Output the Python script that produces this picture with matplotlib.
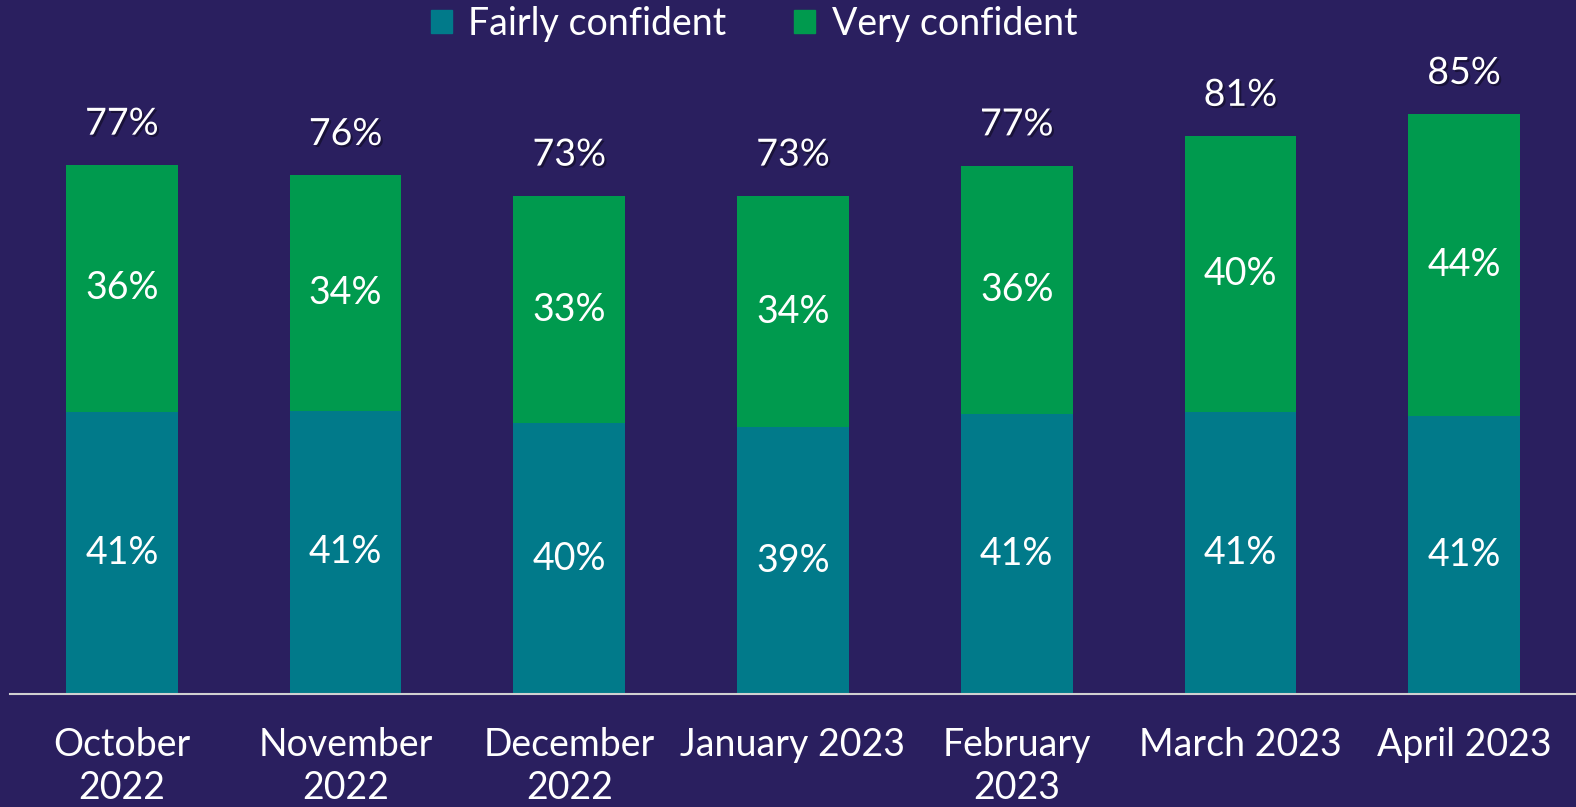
import matplotlib.pyplot as plt
import matplotlib.patheffects as pe
from matplotlib.patches import Patch

months = ["October\n2022", "November\n2022", "December\n2022", "January 2023",
          "February\n2023", "March 2023", "April 2023"]
# bar heights (unrounded), labels as printed
fairly = [41.1, 41.2, 39.4, 38.8, 40.8, 41.0, 40.5]
very = [35.9, 34.3, 33.1, 33.7, 36.1, 40.2, 43.9]
fairly_lbl = [41, 41, 40, 39, 41, 41, 41]
very_lbl = [36, 34, 33, 34, 36, 40, 44]
total_lbl = [77, 76, 73, 73, 77, 81, 85]

bg = "#2a1f5f"
teal = "#017a8a"
green = "#009a4e"

plt.rcParams["font.family"] = ["Lato", "DejaVu Sans"]

fig = plt.figure(figsize=(15.76, 8.07), dpi=100, facecolor=bg)
ax = fig.add_axes([10 / 1576, 113 / 807, 1566 / 1576, 694 / 807])
ax.set_facecolor(bg)

x = range(len(months))
ax.bar(x, fairly, width=0.5, color=teal)
ax.bar(x, very, width=0.5, bottom=fairly, color=green)

fs = 27
for i in x:
    top = fairly[i] + very[i]
    ax.text(i, fairly[i] / 2, f"{fairly_lbl[i]}%", ha="center", va="center",
            color="white", fontsize=fs)
    ax.text(i, fairly[i] + very[i] / 2, f"{very_lbl[i]}%", ha="center", va="center",
            color="white", fontsize=fs)
    ax.text(i, top + 6, f"{total_lbl[i]}%", ha="center", va="center",
            color="white", fontsize=fs,
            path_effects=[pe.withSimplePatchShadow(offset=(1.5, -1.5), shadow_rgbFace="black", alpha=0.4)])

ax.set_xlim(-0.5, 6.5)
ax.set_ylim(0, 101)
ax.set_xticks(list(x))
ax.set_xticklabels(months, color="white", fontsize=fs, linespacing=1.22)
ax.tick_params(axis="x", length=0, pad=24)
ax.set_yticks([])
for s in ["top", "right", "left"]:
    ax.spines[s].set_visible(False)
ax.spines["bottom"].set_color("#d0d0d0")
ax.spines["bottom"].set_linewidth(1.5)

handles = [Patch(color=teal, label="Fairly confident"),
           Patch(color=green, label="Very confident")]
fig.legend(handles=handles, loc="center", bbox_to_anchor=(754 / 1576, 1 - 24 / 807),
           ncol=2, frameon=False, fontsize=fs, labelcolor="white",
           handlelength=0.55, handleheight=0.55, handletextpad=0.45, columnspacing=1.8)

fig.savefig("out.png", facecolor=bg)
